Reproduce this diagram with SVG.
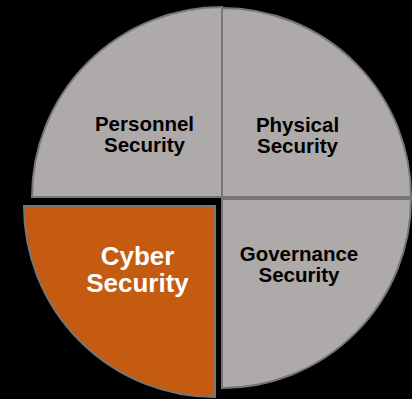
<svg xmlns="http://www.w3.org/2000/svg" width="412" height="399" viewBox="0 0 412 399">
<style>
.q{fill:#AEAAAA;stroke:#767676;stroke-width:2}
.o{fill:#C55A11;stroke:#767676;stroke-width:2}
.t{font-family:"Liberation Sans",Arial,sans-serif;font-weight:bold;font-size:20.5px;fill:#000;text-anchor:middle}
.w{font-family:"Liberation Sans",Arial,sans-serif;font-weight:bold;font-size:26px;fill:#fff;text-anchor:middle}
</style>
<rect width="412" height="399" fill="#000"/>
<g id="personnel">
<path class="q" d="M222,197 L32,197 A190,190 0 0 1 222,7 Z"/>
<text class="t" x="144.5" y="131">Personnel</text>
<text class="t" x="144.5" y="152">Security</text>
</g>
<g id="physical">
<path class="q" d="M222,197 L222,8 A189,189 0 0 1 411,197 Z"/>
<text class="t" x="297.5" y="132">Physical</text>
<text class="t" x="297.5" y="153">Security</text>
</g>
<g id="governance">
<path class="q" d="M222,199 L411,199 A189,189 0 0 1 222,388 Z"/>
<text class="t" x="299" y="261">Governance</text>
<text class="t" x="299" y="282">Security</text>
</g>
<g id="cyber">
<path class="o" d="M215,206 L215,397 A191,191 0 0 1 24,206 Z"/>
<text class="w" x="137.5" y="265">Cyber</text>
<text class="w" x="137.5" y="292">Security</text>
</g>
<g id="connectors"/>
</svg>
